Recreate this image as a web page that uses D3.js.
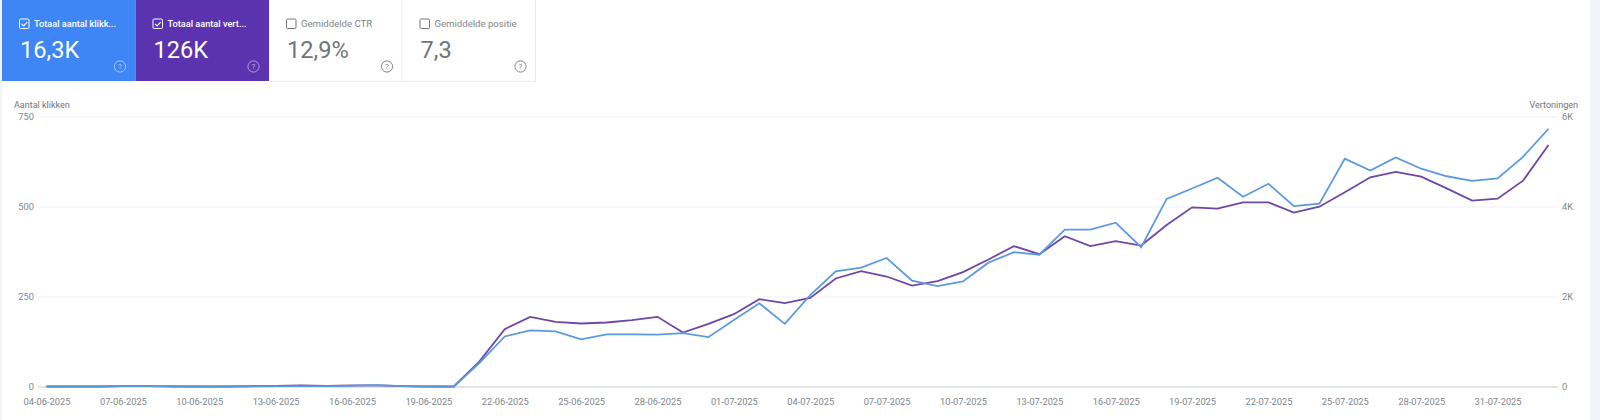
<!DOCTYPE html>
<html>
<head>
<meta charset="utf-8">
<script src="https://cdn.jsdelivr.net/npm/d3@7"></script>
<style>
  html, body { margin: 0; padding: 0; background: #f1f4f9; overflow: hidden; }
  svg { display: block; font-family: Roboto, sans-serif; }
  .axis path, .axis line { display: none; }
  .axis text { fill: #80868b; font-size: 9.3px; font-family: Roboto, sans-serif; }
</style>
</head>
<body>
<svg id="chart" width="1600" height="420"></svg>
<script>
const dates = [
  '04-06-2025','05-06-2025','06-06-2025','07-06-2025','08-06-2025','09-06-2025','10-06-2025','11-06-2025','12-06-2025','13-06-2025',
  '14-06-2025','15-06-2025','16-06-2025','17-06-2025','18-06-2025','19-06-2025','20-06-2025','21-06-2025','22-06-2025','23-06-2025',
  '24-06-2025','25-06-2025','26-06-2025','27-06-2025','28-06-2025','29-06-2025','30-06-2025','01-07-2025','02-07-2025','03-07-2025',
  '04-07-2025','05-07-2025','06-07-2025','07-07-2025','08-07-2025','09-07-2025','10-07-2025','11-07-2025','12-07-2025','13-07-2025',
  '14-07-2025','15-07-2025','16-07-2025','17-07-2025','18-07-2025','19-07-2025','20-07-2025','21-07-2025','22-07-2025','23-07-2025',
  '24-07-2025','25-07-2025','26-07-2025','27-07-2025','28-07-2025','29-07-2025','30-07-2025','31-07-2025','01-08-2025','02-08-2025'
];
const clicks = [
  0, 0, 0, 1, 1, 1, 0, 0, 0, 1,
  1, 1, 2, 4, 1, 0, 0, 65, 139, 156,
  153, 131, 145, 145, 144, 148, 137, 185, 231, 174,
  254, 320, 330, 357, 294, 279, 292, 344, 373, 366,
  436, 436, 455, 387, 521, 550, 580, 527, 563, 501,
  508, 633, 600, 636, 605, 584, 571, 578, 638, 716
];
const impressions = [
  0, 0, 0, 8, 8, 0, 0, 0, 8, 16,
  24, 16, 24, 24, 8, 0, 0, 555, 1274, 1548,
  1437, 1400, 1422, 1474, 1548, 1200, 1393, 1607, 1941, 1852,
  1970, 2400, 2563, 2444, 2244, 2341, 2541, 2822, 3119, 2941,
  3341, 3119, 3230, 3133, 3589, 3981, 3952, 4093, 4093, 3863,
  3996, 4315, 4648, 4767, 4663, 4404, 4130, 4174, 4574, 5367
];
const clickTicks = [0, 250, 500, 750];
const impressionTicks = [0, 2000, 4000, 6000];
const impressionLabels = ['0', '2K', '4K', '6K'];

const cardTitles = ['Totaal aantal klikk...', 'Totaal aantal vert...', 'Gemiddelde CTR', 'Gemiddelde positie'];
const cardValues = ['16,3K', '126K', '12,9%', '7,3'];
const cardChecked = [true, true, false, false];
const cardFills = ['#3e86f5', '#5c33ae', '#ffffff', '#ffffff'];

const svg = d3.select('#chart');

// white page card, rounded top left
svg.append('rect').attr('x', 2).attr('y', -12).attr('width', 1588).attr('height', 450).attr('rx', 10).attr('fill', '#fff');

const x = d3.scalePoint().domain(dates).range([46.5, 1548.5]);
const yLeft = d3.scaleLinear().domain([0, 750]).range([386.5, 116.5]);
const yRight = d3.scaleLinear().domain([0, 6000]).range([386.5, 116.5]);

// gridlines
svg.append('g').selectAll('line').data(clickTicks).join('line')
  .attr('x1', 38).attr('x2', 1558)
  .attr('y1', d => yLeft(d) + 0.5).attr('y2', d => yLeft(d) + 0.5)
  .attr('stroke', d => d === 0 ? '#c4c7c9' : '#eef0f1');

// axes
svg.append('g').attr('class', 'axis').attr('transform', 'translate(34,0)')
  .call(d3.axisLeft(yLeft).tickValues(clickTicks).tickSize(0).tickPadding(0).tickFormat(d3.format('d')));
svg.append('g').attr('class', 'axis').attr('transform', 'translate(1562,0)')
  .call(d3.axisRight(yRight).tickValues(impressionTicks).tickSize(0).tickPadding(0)
    .tickFormat((d, i) => impressionLabels[i]));
svg.append('g').attr('class', 'axis').attr('transform', 'translate(0,398.5)')
  .call(d3.axisBottom(x).tickValues(dates.filter((d, i) => i % 3 === 0 && i < 58)).tickSize(0).tickPadding(0));

svg.append('text').attr('x', 14).attr('y', 108).attr('font-size', 9).attr('fill', '#70757a').text('Aantal klikken');
svg.append('text').attr('x', 1578).attr('y', 108).attr('text-anchor', 'end').attr('font-size', 9).attr('fill', '#70757a').text('Vertoningen');

// lines, purple under blue
const lineImpr = d3.line().x((d, i) => x(dates[i])).y(d => yRight(d));
const lineClick = d3.line().x((d, i) => x(dates[i])).y(d => yLeft(d));
svg.append('path').datum(impressions).attr('d', lineImpr).attr('fill', 'none').attr('stroke', '#6f46a6').attr('stroke-width', 1.8);
svg.append('path').datum(clicks).attr('d', lineClick).attr('fill', 'none').attr('stroke', '#5c99dd').attr('stroke-width', 1.8);

// metric cards
const cardX = d3.scaleBand().domain(d3.range(cardTitles.length)).range([2, 536]);
const cards = svg.append('g').selectAll('g').data(cardTitles).join('g')
  .attr('transform', (d, i) => `translate(${cardX(i)},0)`);

cards.append('rect').attr('width', cardX.bandwidth()).attr('height', 81)
  .attr('fill', (d, i) => cardFills[i]);
cards.filter((d, i) => !cardChecked[i]).append('path')
  .attr('d', `M${cardX.bandwidth() - 0.5},0V81.5H0`).attr('fill', 'none').attr('stroke', '#e8eaed');

cards.append('rect').attr('x', 17.5).attr('y', 19).attr('width', 9.5).attr('height', 9.5).attr('rx', 1.2)
  .attr('fill', 'none').attr('stroke', (d, i) => cardChecked[i] ? '#fff' : '#70757a').attr('stroke-width', 1);
cards.filter((d, i) => cardChecked[i]).append('path')
  .attr('d', 'M19.5 23.8l2.1 2.1 3.6-3.8').attr('fill', 'none').attr('stroke', '#fff').attr('stroke-width', 1.1);

cards.append('text').attr('x', 32).attr('y', 26.5)
  .attr('font-size', (d, i) => cardChecked[i] ? 9.2 : 9.6)
  .attr('font-weight', (d, i) => cardChecked[i] ? 500 : 400)
  .attr('fill', (d, i) => cardChecked[i] ? '#fff' : '#80868b').text(d => d);
cards.append('text').attr('x', 18).attr('y', 57.5).attr('font-size', 23.6)
  .attr('fill', (d, i) => cardChecked[i] ? '#fff' : '#70757a').text((d, i) => cardValues[i]);

cards.append('circle').attr('cx', 118).attr('cy', 66.5).attr('r', 5.6).attr('fill', 'none')
  .attr('stroke', (d, i) => cardChecked[i] ? 'rgba(255,255,255,0.5)' : '#80868b').attr('stroke-width', 1);
cards.append('text').attr('x', 118).attr('y', 69.4).attr('text-anchor', 'middle').attr('font-size', 8)
  .attr('fill', (d, i) => cardChecked[i] ? 'rgba(255,255,255,0.55)' : '#80868b').text('?');
</script>
</body>
</html>
